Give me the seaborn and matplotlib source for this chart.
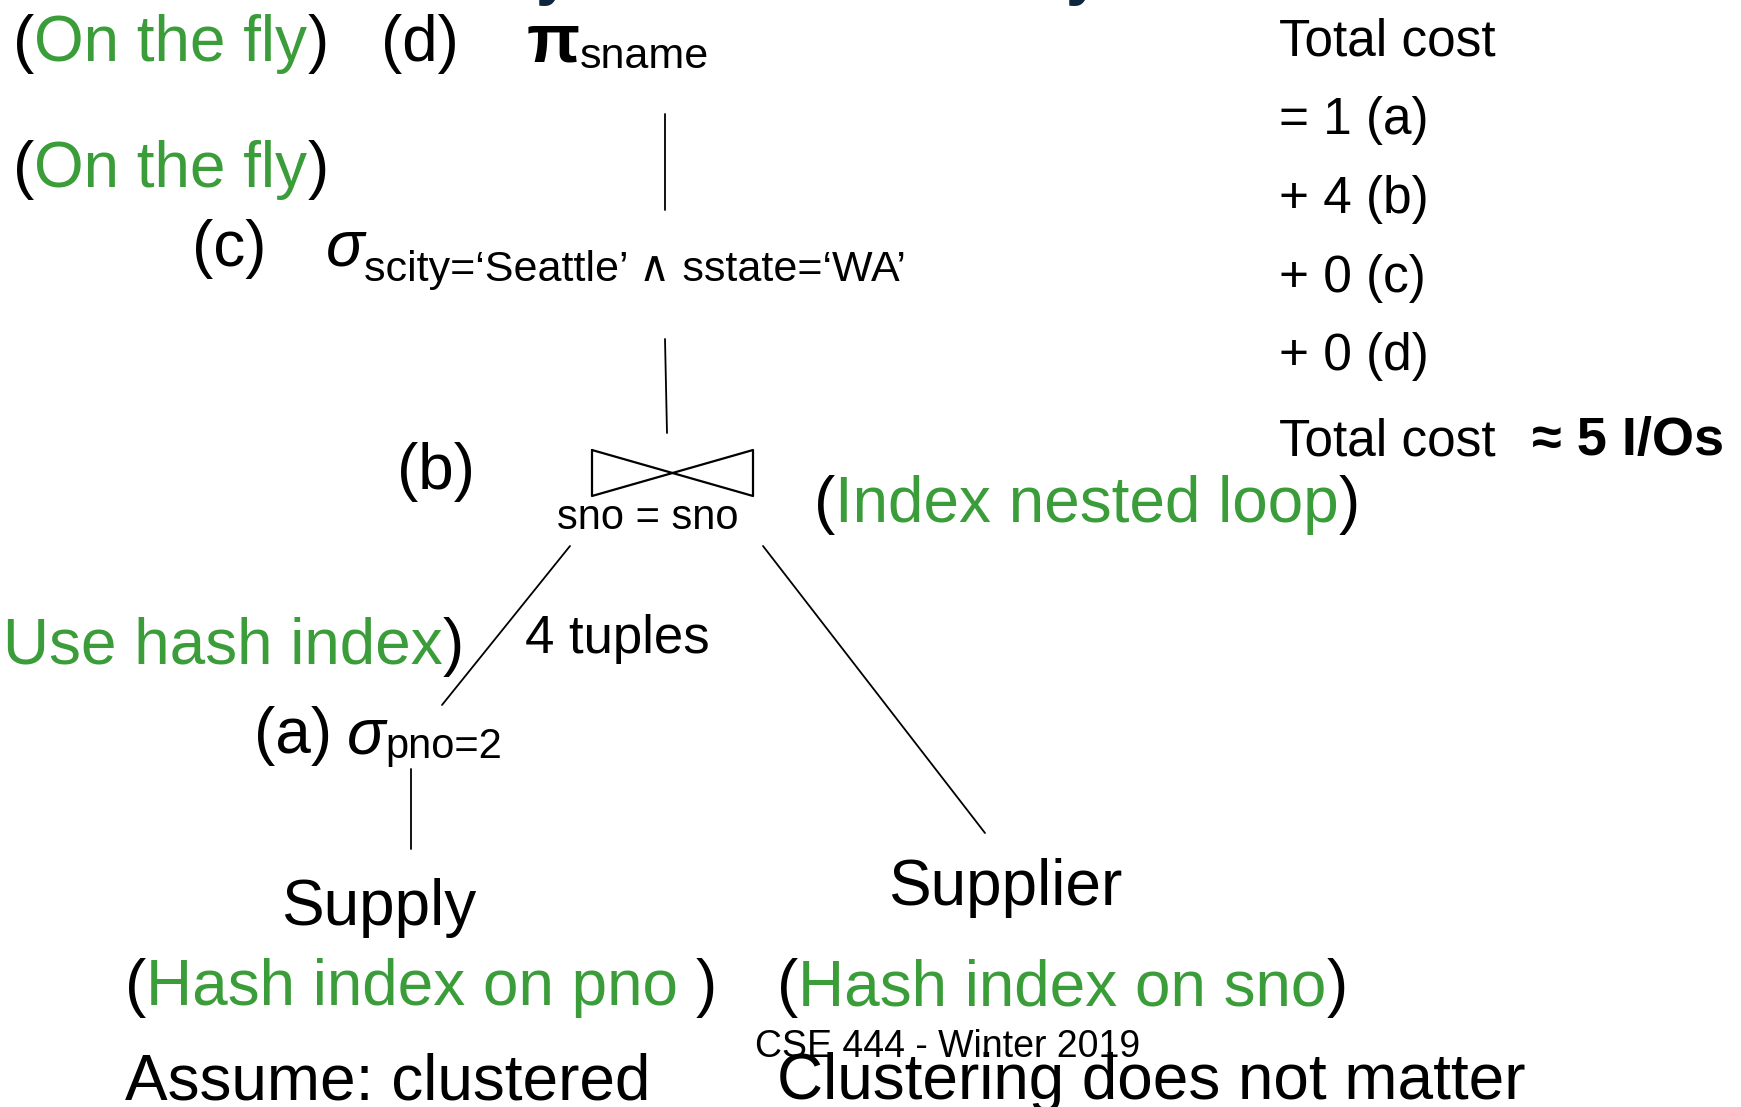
import matplotlib
matplotlib.use("Agg")
import matplotlib.pyplot as plt
import seaborn as sns

# colours
GREEN = '#3a9d3a'
BLACK = '#000000'
NAVY = '#0f2540'

# right-hand cost column
cost_lines = ['Total cost', '= 1 (a)', '+ 4 (b)', '+ 0 (c)', '+ 0 (d)']
cost_total = 'Total cost'
cost_result = '\u2248 5 I/Os'

# operator labels of the plan tree
step_labels = ['(d)', '(c)', '(b)', '(a)']
project_attr = 'sname'
select_sub = 'scity=\u2018Seattle\u2019 \u2227 sstate=\u2018WA\u2019'
leaf_sub = 'pno=2'
join_cond = 'sno = sno'
edge_label = '4 tuples'
relations = ['Supply', 'Supplier']
notes = ['Assume: clustered', 'Clustering does not matter']
footer = 'CSE 444 - Winter 2019'

sns.set_theme(style='white')
plt.rcParams['font.family'] = ['Liberation Sans', 'DejaVu Sans']

W, H = 1741, 1107
fig = plt.figure(figsize=(W / 100, H / 100), dpi=100)
ax = fig.add_axes([0, 0, 1, 1])
ax.set_xlim(0, W)
ax.set_ylim(H, 0)
ax.axis('off')
renderer = fig.canvas.get_renderer()


def put(x, y, parts, size=46):
    # draw a row of text pieces one after another
    for p in parts:
        s, color = p[0], p[1]
        kw = dict(p[2]) if len(p) > 2 else {}
        fs = kw.pop('size', size)
        dy = kw.pop('dy', 0)
        t = ax.text(x, y + dy, s, color=color, fontsize=fs, ha='left', va='baseline', **kw)
        x += t.get_window_extent(renderer).width
    return x


def green_note(x, y, label, close=')', open_='('):
    parts = []
    if open_:
        parts.append((open_, BLACK))
    parts.append((label, GREEN))
    parts.append((close, BLACK))
    put(x, y, parts)


# cut-off title descenders at the very top
ax.text(553, -7, 'y', color=NAVY, fontsize=46, fontweight='bold', ha='center', va='baseline')
ax.text(1083, -7, 'y', color=NAVY, fontsize=46, fontweight='bold', ha='center', va='baseline')

# tree edges
edges = [((665, 114), (665, 210)),
         ((665, 339), (667, 433)),
         ((570, 546), (442, 705)),
         ((763, 546), (985, 833)),
         ((411, 769), (411, 849))]
for (x0, y0), (x1, y1) in edges:
    ax.plot([x0, x1], [y0, y1], color=BLACK, lw=1.3)

# join bowtie
ax.plot([592, 592, 753, 753, 592], [450, 496, 450, 496, 450], color=BLACK, lw=1.6)

# (d) projection
green_note(13, 61, 'On the fly')
put(381, 61, [(step_labels[0], BLACK)])
put(527, 61, [('\u03c0', BLACK, {'fontweight': 'bold', 'size': 50}),
              (project_attr, BLACK, {'size': 31, 'dy': 7})])

# (c) selection
green_note(13, 187, 'On the fly')
put(192, 266, [(step_labels[1], BLACK)])
put(326, 266, [('\u03c3', BLACK, {'fontstyle': 'italic'}),
               (select_sub, BLACK, {'size': 31, 'dy': 15})])

# (b) join
put(397, 489, [(step_labels[2], BLACK)])
put(557, 529, [(join_cond, BLACK)], size=30)
green_note(814, 522, 'Index nested loop')

# (a) selection on Supply
green_note(3, 664, 'Use hash index', open_='')
put(525, 653, [(edge_label, BLACK)], size=38)
put(254, 753, [(step_labels[3], BLACK), (' ', BLACK, {'size': 38}),
               ('\u03c3', BLACK, {'fontstyle': 'italic'}),
               (leaf_sub, BLACK, {'size': 30, 'dy': 5})])

# leaves
put(281, 925, [(relations[0], BLACK)])
put(888, 905, [(relations[1], BLACK)])
green_note(125, 1005, 'Hash index on pno ')
green_note(777, 1005, 'Hash index on sno')
put(125, 1099, [(notes[0], BLACK)])
put(777, 1099, [(notes[1], BLACK)])
ax.text(755, 1057, footer, color=BLACK, fontsize=27, ha='left', va='baseline', zorder=5)

# cost column
for label, yb in zip(cost_lines, [56, 134, 213, 292, 370]):
    put(1279, yb, [(label, BLACK)], size=37)
put(1279, 455, [(cost_total, BLACK)], size=37)
put(1532, 455, [(cost_result, BLACK, {'fontweight': 'bold'})], size=39)

fig.savefig('out.png', dpi=100, facecolor='white')
